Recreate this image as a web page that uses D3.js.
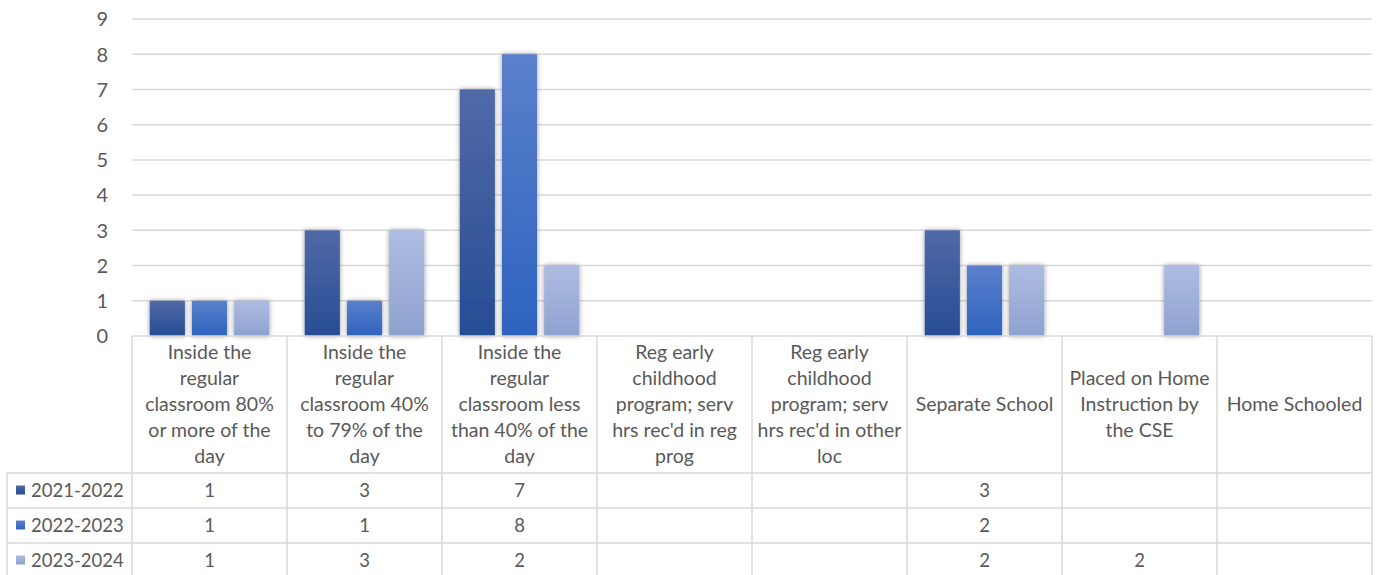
<!DOCTYPE html>
<html>
<head>
<meta charset="utf-8">
<script src="https://cdn.jsdelivr.net/npm/d3@7"></script>
<style>
  html, body { margin: 0; padding: 0; background: #fff; }
  svg { display: block; }
  text { font-family: Lato, "Open Sans", sans-serif; fill: #595959; }
</style>
</head>
<body>
<svg id="chart" width="1376" height="575"></svg>
<script>
// Placement settings and counts per school year
const categories = [
  "Inside the regular classroom 80% or more of the day",
  "Inside the regular classroom 40% to 79% of the day",
  "Inside the regular classroom less than 40% of the day",
  "Reg early childhood program; serv hrs rec'd in reg prog",
  "Reg early childhood program; serv hrs rec'd in other loc",
  "Separate School",
  "Placed on Home Instruction by the CSE",
  "Home Schooled"
];
// Line breaks used in the table header cells
const categoryLines = [
  ["Inside the", "regular", "classroom 80%", "or more of the", "day"],
  ["Inside the", "regular", "classroom 40%", "to 79% of the", "day"],
  ["Inside the", "regular", "classroom less", "than 40% of the", "day"],
  ["Reg early", "childhood", "program; serv", "hrs rec'd in reg", "prog"],
  ["Reg early", "childhood", "program; serv", "hrs rec'd in other", "loc"],
  ["Separate School"],
  ["Placed on Home", "Instruction by", "the CSE"],
  ["Home Schooled"]
];
const seriesNames = ["2021-2022", "2022-2023", "2023-2024"];
const values2021 = [1, 3, 7, null, null, 3, null, null];
const values2022 = [1, 1, 8, null, null, 2, null, null];
const values2023 = [1, 3, 2, null, null, 2, 2, null];
const yTicks = [0, 1, 2, 3, 4, 5, 6, 7, 8, 9];

const seriesValues = [values2021, values2022, values2023];
const colorStops = [
  ["#5169a7", "#264d94"],
  ["#5b80cb", "#2e63bf"],
  ["#aebce2", "#8ea2cf"]
];

const svg = d3.select("#chart");
const plot = { left: 132, right: 1372, top: 19, bottom: 336 };

const x0 = d3.scaleBand().domain(categories).range([plot.left, plot.right]).padding(0);
const x1 = d3.scaleBand().domain(seriesNames).range([0, x0.bandwidth()])
  .paddingInner(7 / 42).paddingOuter(0.42);
const y = d3.scaleLinear().domain([0, 9]).range([plot.bottom, plot.top]);

const defs = svg.append("defs");
seriesNames.forEach((s, i) => {
  const g = defs.append("linearGradient").attr("id", "grad" + i)
    .attr("x1", 0).attr("y1", 0).attr("x2", 0).attr("y2", 1);
  g.append("stop").attr("offset", "0%").attr("stop-color", colorStops[i][0]);
  g.append("stop").attr("offset", "100%").attr("stop-color", colorStops[i][1]);
});
const shadow = defs.append("filter").attr("id", "shadow")
  .attr("x", "-40%").attr("y", "-20%").attr("width", "180%").attr("height", "140%");
shadow.append("feDropShadow").attr("dx", 0).attr("dy", 0)
  .attr("stdDeviation", 2.5).attr("flood-color", "#000").attr("flood-opacity", 0.4);

// Horizontal gridlines
svg.append("g").selectAll("line").data(yTicks.slice(1)).join("line")
  .attr("x1", plot.left).attr("x2", plot.right)
  .attr("y1", d => y(d)).attr("y2", d => y(d))
  .attr("stroke", "#d9d9d9").attr("stroke-width", 1.5);

// Value axis labels
const yAxis = d3.axisLeft(y).tickValues(yTicks).tickSize(0).tickPadding(0);
const yg = svg.append("g").attr("transform", `translate(${plot.left - 24},0)`).call(yAxis);
yg.select(".domain").remove();
yg.selectAll("text").style("font-family", "Lato, 'Open Sans', sans-serif")
  .attr("font-size", 20).attr("fill", "#595959").attr("dy", "0.34em");

// Bars
const groups = svg.append("g").selectAll("g").data(seriesNames).join("g")
  .attr("fill", (d, i) => `url(#grad${i})`);
groups.selectAll("rect")
  .data((s, i) => categories.map((c, j) => ({ c, s, v: seriesValues[i][j] })).filter(d => d.v))
  .join("rect")
  .attr("x", d => x0(d.c) + x1(d.s))
  .attr("width", x1.bandwidth())
  .attr("y", d => y(d.v))
  .attr("height", d => y(0) - y(d.v))
  .attr("filter", "url(#shadow)");

// Data table beneath the plot
const table = svg.append("g");
const headerBottom = 473, rowH = 35, legendLeft = 7;
const rowTops = seriesNames.map((s, i) => headerBottom + i * rowH);
const lineStyle = sel => sel.attr("stroke", "#d9d9d9").attr("stroke-width", 1.5);

// horizontal lines
table.append("line").attr("x1", plot.left).attr("x2", plot.right)
  .attr("y1", plot.bottom).attr("y2", plot.bottom).call(lineStyle);
table.selectAll(".hrow").data(rowTops.concat([headerBottom + 3 * rowH])).join("line")
  .attr("x1", legendLeft).attr("x2", plot.right)
  .attr("y1", d => d).attr("y2", d => d).call(lineStyle);
// vertical lines
const edges = categories.map(c => x0(c)).concat([plot.right]);
table.selectAll(".vcol").data(edges).join("line")
  .attr("x1", d => d).attr("x2", d => d)
  .attr("y1", plot.bottom).attr("y2", 575).call(lineStyle);
table.append("line").attr("x1", legendLeft).attr("x2", legendLeft)
  .attr("y1", headerBottom).attr("y2", 575).call(lineStyle);

// header labels
const lineH = 26;
categories.forEach((c, j) => {
  const lines = categoryLines[j];
  const cy = (plot.bottom + headerBottom) / 2;
  const start = cy - (lines.length - 1) * lineH / 2;
  const t = table.append("text").attr("text-anchor", "middle").attr("font-size", 19.5);
  lines.forEach((ln, k) => {
    t.append("tspan").attr("x", x0(c) + x0.bandwidth() / 2)
      .attr("y", start + k * lineH).attr("dy", "0.35em").text(ln);
  });
});

// legend keys and cell values
seriesNames.forEach((s, i) => {
  const cy = rowTops[i] + rowH / 2;
  table.append("rect").attr("x", 16).attr("y", cy - 5).attr("width", 9).attr("height", 9)
    .attr("fill", `url(#grad${i})`);
  table.append("text").attr("x", 31).attr("y", cy).attr("dy", "0.35em")
    .attr("font-size", 18.5).text(s);
  categories.forEach((c, j) => {
    const v = seriesValues[i][j];
    if (v == null) return;
    table.append("text").attr("x", x0(c) + x0.bandwidth() / 2).attr("y", cy)
      .attr("dy", "0.35em").attr("text-anchor", "middle").attr("font-size", 18.5).text(v);
  });
});
</script>
</body>
</html>
